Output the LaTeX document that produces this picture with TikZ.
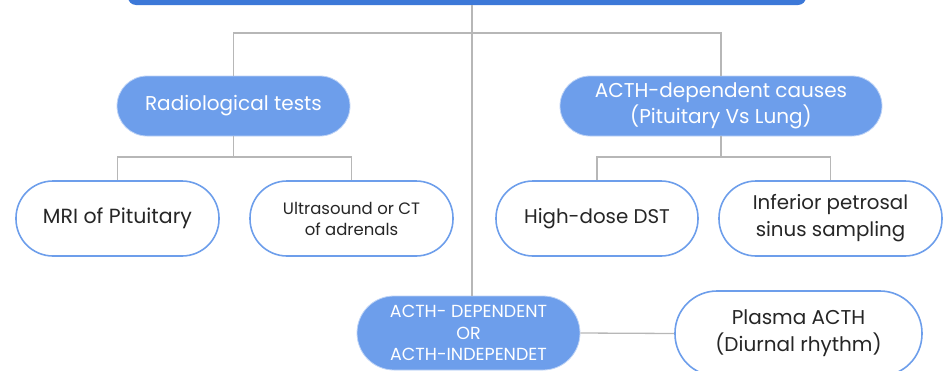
\documentclass[tikz,border=0pt]{standalone}
\usepackage{fontspec}
\setmainfont{Poppins}
\definecolor{barblue}{HTML}{3C78D8}
\definecolor{boxblue}{HTML}{6D9EEB}
\definecolor{linegray}{HTML}{B7B7B7}
\tikzset{
  bluebox/.style={fill=boxblue, draw=boxblue!45, line width=0.8pt, text=white, align=center, inner sep=0pt},
  whitebox/.style={fill=white, draw=boxblue, line width=1.6pt, text=black!85, align=center, inner sep=0pt},
  link/.style={linegray, line width=1.3pt}
}
\begin{document}
\begin{tikzpicture}[x=1pt, y=-1pt]
    \useasboundingbox (0, 0) rectangle (943, 370);
    \node [fill=barblue, rounded corners=8pt, minimum width=678pt, minimum height=30pt, inner sep=0pt] at (467, -10) (top) {};

    \node [bluebox, rounded corners=30pt, minimum width=233pt, minimum height=60pt, font=\fontsize{20}{22}\selectfont] at (233.5, 106) (radio) {Radiological tests};
    \node [bluebox, rounded corners=30pt, minimum width=322pt, minimum height=60pt, font=\fontsize{20}{26}\selectfont] at (721, 106) (causes) {ACTH-dependent causes\\(Pituitary Vs Lung)};

    \node [whitebox, rounded corners=37pt, minimum width=203pt, minimum height=75pt, font=\fontsize{20.5}{22}\selectfont] at (117.5, 218.5) (mri) {MRI of Pituitary};
    \node [whitebox, rounded corners=37pt, minimum width=203pt, minimum height=75pt, font=\fontsize{16.5}{21}\selectfont] at (351.5, 218.5) (us) {Ultrasound or CT\\of adrenals};
    \node [whitebox, rounded corners=37pt, minimum width=202pt, minimum height=75pt, font=\fontsize{19.8}{22}\selectfont] at (597, 218.5) (hd) {High-dose DST};
    \node [whitebox, rounded corners=37pt, minimum width=223pt, minimum height=75pt, font=\fontsize{19.8}{27}\selectfont] at (830.5, 218.5) (ips) {Inferior petrosal\\sinus sampling};

    \node [bluebox, rounded corners=37pt, minimum width=223pt, minimum height=74pt, font=\fontsize{17.5}{21.5}\selectfont] at (468.5, 333) (dep) {ACTH- DEPENDENT\\OR\\ACTH-INDEPENDET};
    \node [whitebox, rounded corners=42pt, minimum width=247pt, minimum height=85pt, font=\fontsize{20}{27}\selectfont] at (798.5, 333.5) (plasma) {Plasma ACTH\\(Diurnal rhythm)};

    % connectors
    \coordinate (J) at (472, 33);
    \coordinate (L) at (233.5, 157);
    \coordinate (R) at (721, 157);
    \draw [link] (top.south -| J) -- (J |- dep.north);
    \draw [link] (radio.north) |- (J) -| (causes.north);
    \draw [link] (radio.south) -- (L);
    \draw [link] (mri.north) |- (L) -| (us.north);
    \draw [link] (causes.south) -- (R);
    \draw [link] (hd.north) |- (R) -| (ips.north);
    \draw [link] (dep.east) -- (plasma.west);
\end{tikzpicture}
\end{document}
